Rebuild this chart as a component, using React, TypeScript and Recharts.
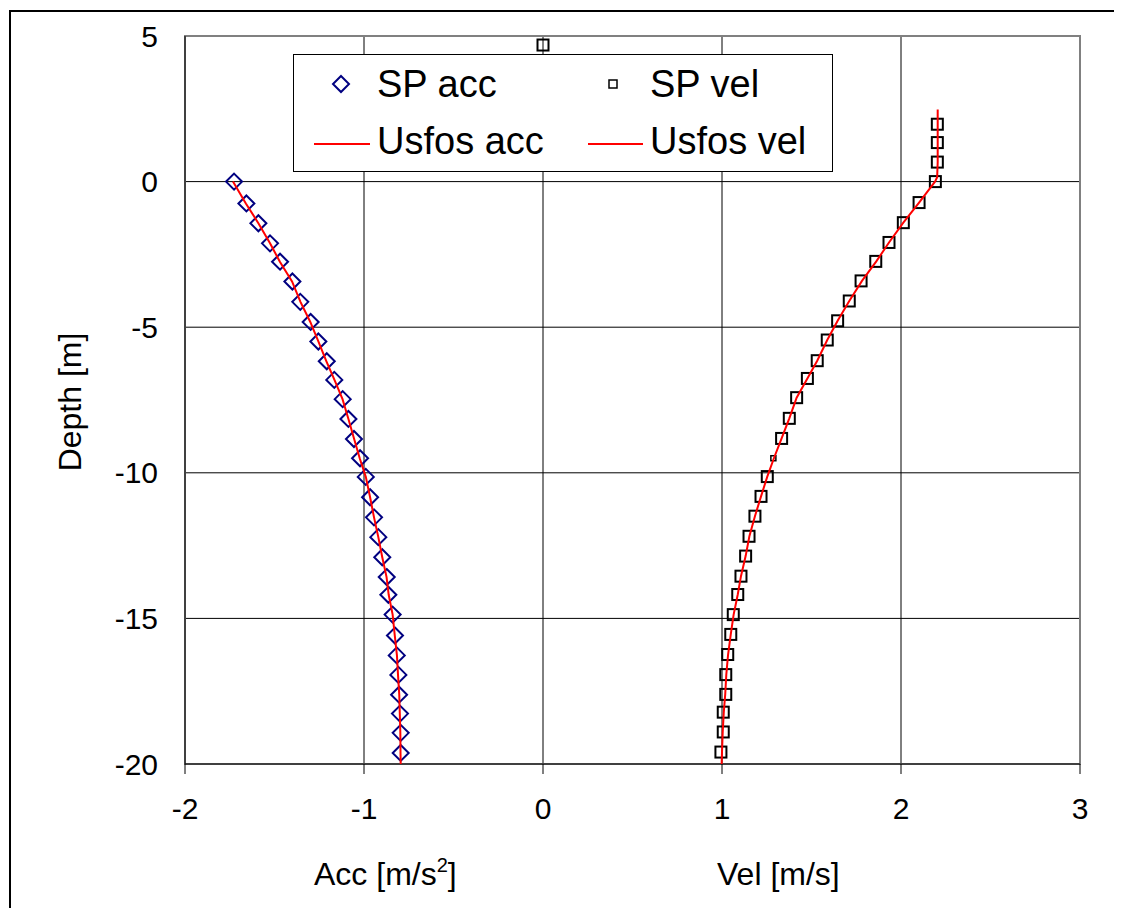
import {
  CartesianGrid,
  ReferenceArea,
  Scatter,
  ScatterChart,
  XAxis,
  YAxis,
} from "recharts";

const FONT = '"Liberation Sans", Arial, sans-serif';

// SP acceleration samples: depth [m] / acc [m/s2]
const accDepths = [
  0, -0.75, -1.43, -2.12, -2.75, -3.43, -4.13, -4.82, -5.49, -6.17, -6.81,
  -7.47, -8.15, -8.84, -9.5, -10.14, -10.84, -11.53, -12.21, -12.9, -13.58,
  -14.19, -14.87, -15.59, -16.27, -16.94, -17.62, -18.27, -18.93, -19.62,
];
const accValues = [
  -1.726, -1.657, -1.59, -1.525, -1.469, -1.4, -1.356, -1.298, -1.255, -1.208,
  -1.166, -1.119, -1.087, -1.056, -1.022, -0.99, -0.966, -0.944, -0.92, -0.898,
  -0.873, -0.864, -0.84, -0.827, -0.817, -0.808, -0.804, -0.799, -0.795, -0.795,
];

// SP velocity samples: depth [m] / vel [m/s]
const velDepths = [
  4.69, 1.97, 1.34, 0.67, 0, -0.72, -1.41, -2.09, -2.74, -3.41, -4.1, -4.78,
  -5.44, -6.15, -6.76, -7.42, -8.13, -8.82, -10.13, -10.81, -11.49, -12.18,
  -12.86, -13.55, -14.18, -14.87, -15.55, -16.24, -16.93, -17.61, -18.22,
  -18.9, -19.59,
];
const velValues = [
  0, 2.203, 2.203, 2.203, 2.192, 2.101, 2.013, 1.933, 1.859, 1.777, 1.711,
  1.646, 1.588, 1.532, 1.477, 1.417, 1.376, 1.333, 1.253, 1.218, 1.184, 1.151,
  1.132, 1.106, 1.088, 1.063, 1.049, 1.032, 1.021, 1.021, 1.007, 1.007, 0.994,
];
// one sample drawn with a smaller marker
const velSmallDepths = [-9.5];
const velSmallValues = [1.287];

// Usfos results
const usfosAccDepths = [
  0, -0.75, -1.43, -2.12, -2.75, -3.43, -4.13, -4.82, -5.49, -6.17, -6.81,
  -7.47, -8.15, -8.84, -9.5, -10.14, -10.84, -11.53, -12.21, -12.9, -13.58,
  -14.19, -14.87, -15.59, -16.27, -16.94, -17.62, -18.27, -18.93, -19.62, -20,
];
const usfosAccValues = [
  -1.732, -1.66, -1.59, -1.525, -1.47, -1.402, -1.355, -1.3, -1.255, -1.21,
  -1.165, -1.12, -1.087, -1.055, -1.024, -0.99, -0.966, -0.944, -0.92, -0.898,
  -0.874, -0.862, -0.84, -0.828, -0.816, -0.81, -0.803, -0.8, -0.797, -0.796,
  -0.795,
];
const usfosVelDepths = [
  2.48, 1.97, 1.34, 0.67, 0.15, 0, -0.72, -1.41, -2.09, -2.74, -3.41, -4.1,
  -4.78, -5.44, -6.15, -6.76, -7.42, -8.13, -8.82, -9.5, -10.13, -10.81,
  -11.49, -12.18, -12.86, -13.55, -14.18, -14.87, -15.55, -16.24, -16.93,
  -17.61, -18.22, -18.9, -19.59, -20,
];
const usfosVelValues = [
  2.205, 2.205, 2.205, 2.205, 2.202, 2.19, 2.101, 2.013, 1.933, 1.862, 1.782,
  1.711, 1.646, 1.588, 1.532, 1.477, 1.417, 1.376, 1.333, 1.29, 1.253, 1.218,
  1.184, 1.153, 1.132, 1.106, 1.088, 1.065, 1.049, 1.034, 1.024, 1.018, 1.01,
  1.004, 1.0, 0.998,
];

const xTicks = [-2, -1, 0, 1, 2, 3];
const yTicks = [-20, -15, -10, -5, 0, 5];

const toPoints = (xs: number[], ys: number[]) =>
  xs.map((x, i) => ({ x, y: ys[i] }));

const Diamond = (p: any) => (
  <path
    d={`M${p.cx},${p.cy - 8}L${p.cx + 8},${p.cy}L${p.cx},${p.cy + 8}L${p.cx - 8},${p.cy}Z`}
    fill="none"
    stroke="#000080"
    strokeWidth={2}
  />
);

const Square = (p: any) => (
  <rect x={p.cx - 5.5} y={p.cy - 5.5} width={11} height={11} fill="none" stroke="#000" strokeWidth={2} />
);

const SmallSquare = (p: any) => (
  <rect x={p.cx - 2.5} y={p.cy - 2.5} width={5} height={5} fill="none" stroke="#000" strokeWidth={1.5} />
);

const NoMarker = () => <g />;

const legendText: React.CSSProperties = {
  position: "absolute",
  fontFamily: FONT,
  fontSize: 38,
  lineHeight: "38px",
  color: "#000",
  whiteSpace: "nowrap",
};

function Legend() {
  return (
    <div
      style={{
        position: "absolute",
        left: 285,
        top: 46,
        width: 538,
        height: 116,
        background: "#fff",
        border: "1px solid #000",
      }}
    >
      <svg width={538} height={116} style={{ position: "absolute", left: 0, top: 0 }}>
        <path d="M47,21L55,29L47,37L39,29Z" fill="none" stroke="#000080" strokeWidth={2} />
        <rect x={315} y={25} width={8} height={8} fill="none" stroke="#000" strokeWidth={1.5} />
        <line x1={20} y1={89} x2={76} y2={89} stroke="#ff0000" strokeWidth={2} />
        <line x1={294} y1={89} x2={349} y2={89} stroke="#ff0000" strokeWidth={2} />
      </svg>
      <div style={{ ...legendText, left: 83, top: 10 }}>SP acc</div>
      <div style={{ ...legendText, left: 356, top: 10 }}>SP vel</div>
      <div style={{ ...legendText, left: 83, top: 67 }}>Usfos acc</div>
      <div style={{ ...legendText, left: 356, top: 67 }}>Usfos vel</div>
    </div>
  );
}

const titleStyle: React.CSSProperties = {
  position: "absolute",
  fontFamily: FONT,
  fontSize: 32,
  lineHeight: "32px",
  color: "#000",
  whiteSpace: "nowrap",
};

export default function App() {
  return (
    <div style={{ position: "relative", width: 1106, height: 900 }}>
      <div
        style={{
          position: "absolute",
          left: 1,
          top: 2,
          width: 1111,
          height: 911,
          borderLeft: "2px solid #000",
          borderTop: "2px solid #000",
        }}
      />
      <ScatterChart
        width={1106}
        height={900}
        margin={{ top: 28, right: 34, bottom: 84, left: 77 }}
        style={{ position: "absolute", left: 0, top: 0 }}
      >
        <CartesianGrid
          stroke="#000"
          strokeWidth={1}
          verticalValues={[-1, 0, 1, 2]}
          horizontalValues={[0, -5, -10, -15]}
        />
        <ReferenceArea
          x1={-2}
          x2={3}
          y1={-20}
          y2={5}
          fill="none"
          fillOpacity={0}
          stroke="#808080"
          strokeWidth={2}
          strokeOpacity={1}
        />
        <XAxis
          type="number"
          dataKey="x"
          domain={[-2, 3]}
          ticks={xTicks}
          height={60}
          tickSize={10}
          tickMargin={24}
          axisLine={{ stroke: "#000" }}
          tickLine={{ stroke: "#000" }}
          tick={{ fontSize: 30, fill: "#000", fontFamily: FONT }}
          allowDataOverflow
        />
        <YAxis
          type="number"
          dataKey="y"
          domain={[-20, 5]}
          ticks={yTicks}
          width={100}
          tickSize={0}
          tickMargin={27}
          axisLine={{ stroke: "#000" }}
          tickLine={false}
          tick={{ fontSize: 30, fill: "#000", fontFamily: FONT }}
          allowDataOverflow
        />
        <Scatter
          name="SP acc"
          data={toPoints(accValues, accDepths)}
          shape={Diamond}
          isAnimationActive={false}
        />
        <Scatter
          name="SP vel"
          data={toPoints(velValues, velDepths)}
          shape={Square}
          isAnimationActive={false}
        />
        <Scatter
          name="SP vel small"
          data={toPoints(velSmallValues, velSmallDepths)}
          shape={SmallSquare}
          isAnimationActive={false}
        />
        <Scatter
          name="Usfos acc"
          data={toPoints(usfosAccValues, usfosAccDepths)}
          fill="#ff0000"
          line={{ stroke: "#ff0000", strokeWidth: 2 }}
          lineType="joint"
          shape={NoMarker}
          isAnimationActive={false}
        />
        <Scatter
          name="Usfos vel"
          data={toPoints(usfosVelValues, usfosVelDepths)}
          fill="#ff0000"
          line={{ stroke: "#ff0000", strokeWidth: 2 }}
          lineType="joint"
          shape={NoMarker}
          isAnimationActive={false}
        />
      </ScatterChart>
      <Legend />
      <div
        style={{
          ...titleStyle,
          left: 62,
          top: 394,
          transform: "translate(-50%, -50%) rotate(-90deg)",
        }}
      >
        Depth [m]
      </div>
      <div style={{ ...titleStyle, left: 306, top: 850 }}>
        Acc [m/s<sup style={{ fontSize: 20, lineHeight: 0, verticalAlign: 13 }}>2</sup>]
      </div>
      <div style={{ ...titleStyle, left: 709, top: 850 }}>Vel [m/s]</div>
    </div>
  );
}
